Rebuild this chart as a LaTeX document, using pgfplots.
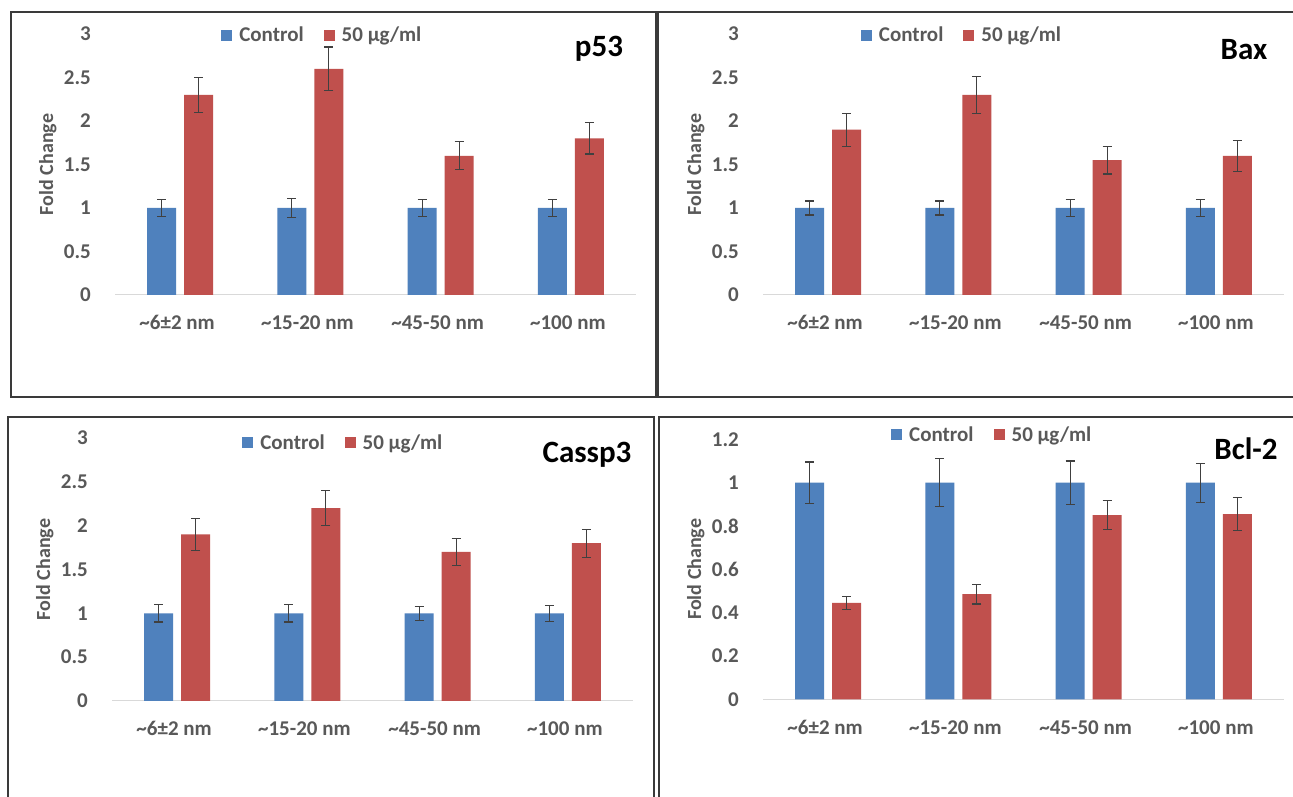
\documentclass[border=0pt]{standalone}
\usepackage{fontspec}
\setmainfont{Carlito}
\usepackage{pgfplots}
\pgfplotsset{compat=1.18}
\definecolor{xblue}{HTML}{4F81BD}
\definecolor{xred}{HTML}{C0504D}
\definecolor{tgray}{HTML}{595959}
\definecolor{egray}{HTML}{404040}
\definecolor{agray}{HTML}{D9D9D9}
\definecolor{fgray}{HTML}{3A3A3A}
\newcommand{\tfont}{\fontsize{21}{25}\selectfont\bfseries}
\pgfplotsset{
 panel/.style={
   scale only axis, width=521pt,
   xmin=-0.5, xmax=3.5, ymin=0,
   ybar=8pt, bar width=29pt,
   axis lines*=left,
   x axis line style={draw=agray, line width=1pt, -},
   y axis line style={draw=none},
   major tick length=0pt,
   xtick={0,1,2,3},
   xticklabels={\textasciitilde6±2 nm, \textasciitilde15-20 nm, \textasciitilde45-50 nm, \textasciitilde100 nm},
   xticklabel style={font=\tfont, text=tgray, anchor=base, yshift=-35pt, xshift=-3pt, inner sep=0pt},
   yticklabel style={font=\tfont, text=tgray, anchor=east, inner sep=0pt, xshift=-24pt},
   /pgf/number format/assume math mode=true,
   ylabel={Fold Change},
   every axis y label/.style={at={(axis description cs:-0.129,0.5)}, rotate=90, anchor=center, font=\fontsize{20}{24}\selectfont\bfseries, text=tgray},
   legend style={draw=none, fill=none, anchor=center, legend columns=2, font=\tfont, text=tgray, /tikz/every even column/.append style={column sep=18pt}},
   legend cell align=left,
   clip=false,
 },
 cbar/.style={fill=xblue, draw=none,
   legend image code/.code={\fill[xblue] (0pt,-5.5pt) rectangle (11pt,5.5pt); \path (16pt,0pt);},
   error bars/.cd, y dir=both, y explicit, error bar style={egray, line width=1.2pt}, error mark options={rotate=90, egray, line width=1.2pt, mark size=4.5pt}},
 rbar/.style={fill=xred, draw=none,
   legend image code/.code={\fill[xred] (0pt,-5.5pt) rectangle (11pt,5.5pt); \path (16pt,0pt);},
   error bars/.cd, y dir=both, y explicit, error bar style={egray, line width=1.2pt}, error mark options={rotate=90, egray, line width=1.2pt, mark size=4.5pt}},
}
\begin{document}
\begin{tikzpicture}[x=1pt,y=1pt]
\useasboundingbox (0,0) rectangle (1293,797);
\fill[white] (0,0) rectangle (1293,797);
% frames
\draw[fgray, line width=2pt] (11,785) rectangle (656,400);
\draw[fgray, line width=2pt] (658,785) rectangle (1310,400);
\draw[fgray, line width=2pt] (8,380) rectangle (654,-20);
\draw[fgray, line width=2pt] (659,380) rectangle (1310,-20);

% p53
\begin{axis}[panel, at={(115pt,502pt)}, anchor=south west, height=261pt, ymax=3,
  ytick={0,0.5,1,1.5,2,2.5,3}, legend style={at={(0.398,0.996)}}]
\addplot[cbar] coordinates {(0,1) +- (0,0.1) (1,1) +- (0,0.11) (2,1) +- (0,0.1) (3,1) +- (0,0.095)};
\addplot[rbar] coordinates {(0,2.3) +- (0,0.2) (1,2.6) +- (0,0.25) (2,1.6) +- (0,0.16) (3,1.8) +- (0,0.18)};
\legend{Control, 50 µg/ml}
\end{axis}
\node[anchor=base, font=\fontsize{31}{35}\selectfont\bfseries] at (599,740) {p53};

% Bax
\begin{axis}[panel, at={(763pt,502pt)}, anchor=south west, height=261pt, ymax=3,
  ytick={0,0.5,1,1.5,2,2.5,3}, legend style={at={(0.382,0.996)}}]
\addplot[cbar] coordinates {(0,1) +- (0,0.08) (1,1) +- (0,0.08) (2,1) +- (0,0.1) (3,1) +- (0,0.1)};
\addplot[rbar] coordinates {(0,1.9) +- (0,0.19) (1,2.3) +- (0,0.21) (2,1.55) +- (0,0.16) (3,1.6) +- (0,0.18)};
\legend{Control, 50 µg/ml}
\end{axis}
\node[anchor=base, font=\fontsize{31}{35}\selectfont\bfseries] at (1244,737) {Bax};

% Cassp3
\begin{axis}[panel, at={(112pt,96pt)}, anchor=south west, height=263pt, ymax=3,
  ytick={0,0.5,1,1.5,2,2.5,3}, legend style={at={(0.444,0.982)}}]
\addplot[cbar] coordinates {(0,1) +- (0,0.1) (1,1) +- (0,0.1) (2,1) +- (0,0.08) (3,1) +- (0,0.09)};
\addplot[rbar] coordinates {(0,1.9) +- (0,0.18) (1,2.2) +- (0,0.2) (2,1.7) +- (0,0.15) (3,1.8) +- (0,0.16)};
\legend{Control, 50 µg/ml}
\end{axis}
\node[anchor=base, font=\fontsize{31}{35}\selectfont\bfseries] at (587,334) {Cassp3};

% Bcl-2
\begin{axis}[panel, at={(763pt,97.7pt)}, anchor=south west, height=260pt, ymax=1.2,
  ytick={0,0.2,0.4,0.6,0.8,1,1.2}, legend style={at={(0.44,1.018)}}]
\addplot[cbar] coordinates {(0,1) +- (0,0.095) (1,1) +- (0,0.11) (2,1) +- (0,0.1) (3,1) +- (0,0.09)};
\addplot[rbar] coordinates {(0,0.445) +- (0,0.03) (1,0.485) +- (0,0.045) (2,0.85) +- (0,0.068) (3,0.855) +- (0,0.076)};
\legend{Control, 50 µg/ml}
\end{axis}
\node[anchor=base, font=\fontsize{31}{35}\selectfont\bfseries] at (1246,337) {Bcl-2};
\end{tikzpicture}
\end{document}
